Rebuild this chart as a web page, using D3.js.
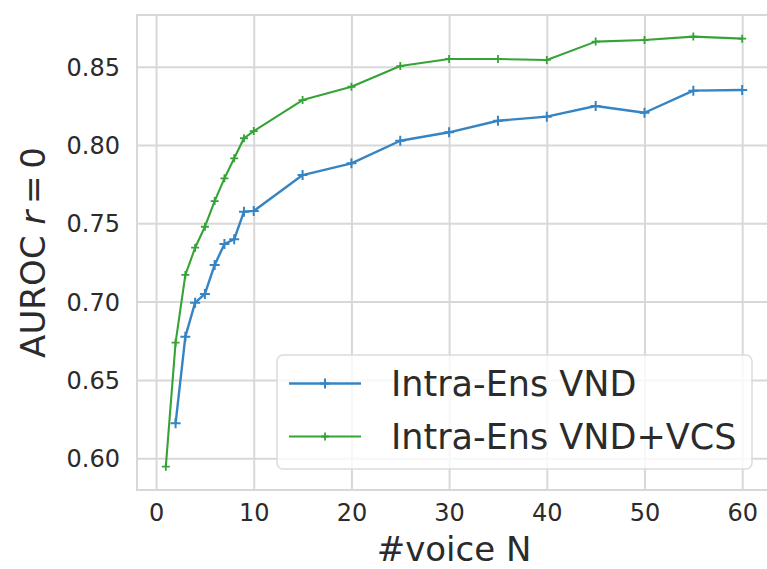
<!DOCTYPE html>
<html>
<head>
<meta charset="utf-8">
<script src="https://cdn.jsdelivr.net/npm/d3@7/dist/d3.min.js"></script>
<style>
  html, body { margin: 0; padding: 0; background: #ffffff; }
  svg { display: block; }
  text { font-family: "DejaVu Sans", sans-serif; fill: #2b2b2b; }
</style>
</head>
<body>
<svg id="chart" width="767" height="569"></svg>
<script>
// Number of voices in the ensemble
const voicesVND = [2, 3, 4, 5, 6, 7, 8, 9, 10, 15, 20, 25, 30, 35, 40, 45, 50, 55, 60];
const voicesVCS = [1, 2, 3, 4, 5, 6, 7, 8, 9, 10, 15, 20, 25, 30, 35, 40, 45, 50, 55, 60];

// AUROC (r = 0) per ensemble size
const aurocVND = [0.6223, 0.6776, 0.6993, 0.7049, 0.7234, 0.7368, 0.7398, 0.7574, 0.7579,
                  0.7808, 0.7883, 0.8027, 0.8081, 0.8155, 0.8181, 0.8249, 0.8206, 0.8347, 0.8351];
const aurocVCS = [0.5946, 0.6738, 0.7170, 0.7344, 0.7478, 0.7642, 0.7787, 0.7915, 0.8043, 0.8089,
                  0.8287, 0.8372, 0.8504, 0.8549, 0.8549, 0.8543, 0.8660, 0.8670, 0.8692, 0.8679];

const seriesNames = ["Intra-Ens VND", "Intra-Ens VND+VCS"];
const xTicks = [0, 10, 20, 30, 40, 50, 60];
const yTicks = [0.60, 0.65, 0.70, 0.75, 0.80, 0.85];

const svg = d3.select("#chart");
const plot = { left: 137, right: 771, top: 15, bottom: 490 };

const x = d3.scaleLinear().domain([-1.95, 62.95]).range([plot.left, plot.right]);
const y = d3.scaleLinear().domain([0.5797, 0.883]).range([plot.bottom, plot.top]);

const gridColor = "#d8d8d8";

// grid lines
const gx = svg.append("g")
  .attr("transform", `translate(0,${plot.bottom})`)
  .call(d3.axisBottom(x).tickValues(xTicks).tickSize(-(plot.bottom - plot.top)).tickFormat(d3.format("d")).tickPadding(14));
const gy = svg.append("g")
  .attr("transform", `translate(${plot.left},0)`)
  .call(d3.axisLeft(y).tickValues(yTicks).tickSize(-(plot.right - plot.left)).tickFormat(d3.format(".2f")).tickPadding(17));

[gx, gy].forEach(g => {
  g.select(".domain").remove();
  g.selectAll(".tick line").attr("stroke", gridColor).attr("stroke-width", 2);
  g.selectAll(".tick text").style("font-size", "24px").attr("fill", "#2b2b2b");
});
gx.selectAll(".tick text").attr("dy", "0.71em");
gy.selectAll(".tick text").attr("dy", "0.36em");

// axes frame
svg.append("rect")
  .attr("x", plot.left).attr("y", plot.top)
  .attr("width", plot.right - plot.left).attr("height", plot.bottom - plot.top)
  .attr("fill", "none").attr("stroke", gridColor).attr("stroke-width", 2);

const series = [
  { name: seriesNames[0], xs: voicesVND, ys: aurocVND, color: "#3584c4", width: 2.4, mark: 5, markWidth: 2 },
  { name: seriesNames[1], xs: voicesVCS, ys: aurocVCS, color: "#36a337", width: 2.1, mark: 4, markWidth: 1.8 }
];

const line = d3.line().x(d => x(d[0])).y(d => y(d[1]));
const plusPath = s => `M${-s},0H${s}M0,${-s}V${s}`;

series.forEach(s => {
  const pts = s.xs.map((v, i) => [v, s.ys[i]]);
  svg.append("path")
    .datum(pts)
    .attr("d", line)
    .attr("fill", "none")
    .attr("stroke", s.color)
    .attr("stroke-width", s.width)
    .attr("stroke-linejoin", "round");
  svg.append("g").selectAll("path")
    .data(pts)
    .join("path")
    .attr("transform", d => `translate(${x(d[0])},${y(d[1])})`)
    .attr("d", plusPath(s.mark))
    .attr("stroke", s.color)
    .attr("stroke-width", s.markWidth)
    .attr("fill", "none");
});

// axis titles
svg.append("text")
  .attr("x", (plot.left + plot.right) / 2)
  .attr("y", 561)
  .attr("text-anchor", "middle")
  .style("font-size", "34px")
  .text("#voice N");

const yTitle = svg.append("text")
  .attr("transform", `translate(45,${(plot.top + plot.bottom) / 2}) rotate(-90)`)
  .attr("text-anchor", "middle")
  .style("font-size", "34px");
yTitle.append("tspan").text("AUROC ");
yTitle.append("tspan").style("font-style", "italic").text("r");
yTitle.append("tspan").text("\u2009=\u20090");

// legend
const legend = svg.append("g");
legend.append("rect")
  .attr("x", 277).attr("y", 355)
  .attr("width", 475).attr("height", 114)
  .attr("rx", 6).attr("ry", 6)
  .attr("fill", "#ffffff").attr("fill-opacity", 0.8)
  .attr("stroke", "#dcdcdc").attr("stroke-width", 1.5);

const rowY = [383.5, 436.5];
series.forEach((s, i) => {
  const row = legend.append("g").attr("transform", `translate(0,${rowY[i]})`);
  row.append("line")
    .attr("x1", 289).attr("x2", 361).attr("y1", 0).attr("y2", 0)
    .attr("stroke", s.color).attr("stroke-width", s.width);
  row.append("path")
    .attr("transform", "translate(325,0)")
    .attr("d", plusPath(s.mark))
    .attr("stroke", s.color).attr("stroke-width", s.markWidth);
  row.append("text")
    .attr("x", 391).attr("y", 0).attr("dy", "0.36em")
    .style("font-size", "35px")
    .text(s.name);
});
</script>
</body>
</html>
